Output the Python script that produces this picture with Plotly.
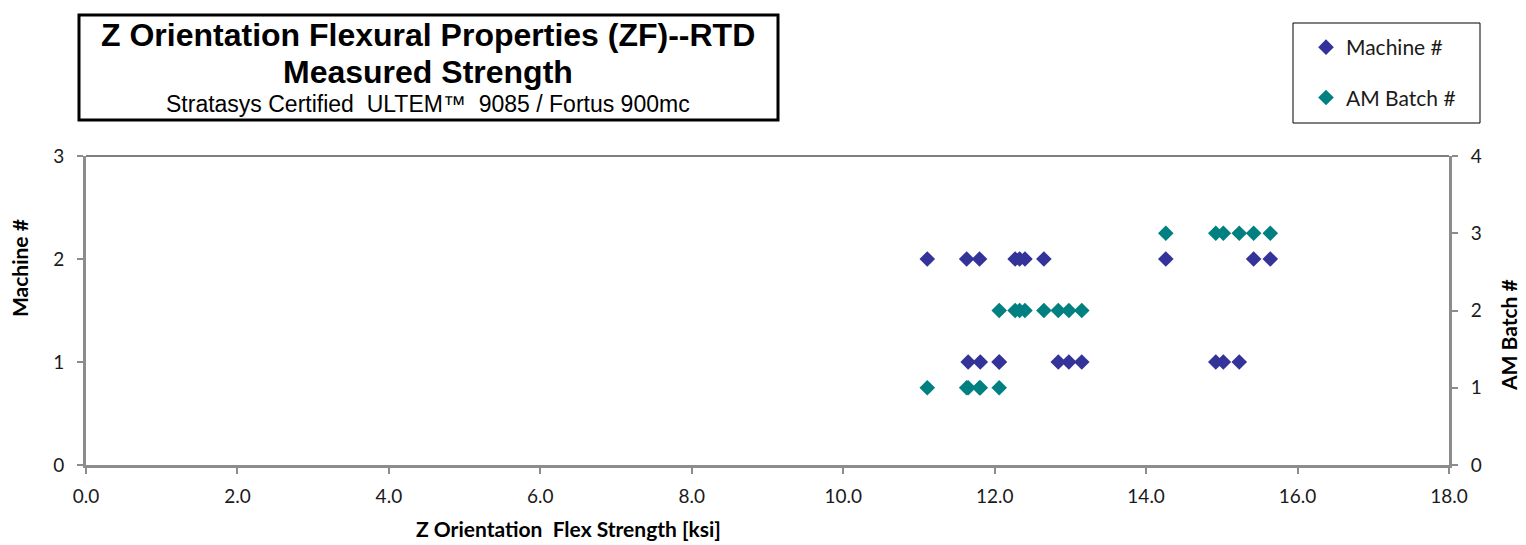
import plotly.graph_objects as go

# ---- data ----
machine_strength = [11.11, 11.63, 11.80, 12.27, 12.33, 12.40, 12.65, 14.26, 15.42, 15.64,
                    11.65, 11.81, 12.06, 12.06, 12.84, 12.98, 13.15, 14.92, 15.02, 15.23]
machine_no = [2, 2, 2, 2, 2, 2, 2, 2, 2, 2,
              1, 1, 1, 1, 1, 1, 1, 1, 1, 1]
batch_strength = [11.11, 11.63, 11.65, 11.80, 11.81, 12.06,
                  12.06, 12.27, 12.33, 12.40, 12.65, 12.84, 12.98, 13.15,
                  14.26, 14.92, 15.02, 15.23, 15.42, 15.64]
batch_no = [1, 1, 1, 1, 1, 1,
            2, 2, 2, 2, 2, 2, 2, 2,
            3, 3, 3, 3, 3, 3]
x_ticks = [0, 2, 4, 6, 8, 10, 12, 14, 16, 18]

W, H = 1526, 545
L, R, T, B = 86, 1449, 156, 465
pw, ph = R - L, B - T

def px(x):
    return (x - L) / pw

def py(y):
    return (B - y) / ph

AXC = "#8c8c8c"
SANS = "Lato, Carlito, Calibri, sans-serif"
TICKFONT = dict(family=SANS, size=19, color="#1a1a1a")

fig = go.Figure()
fig.add_trace(go.Scatter(
    x=machine_strength, y=machine_no, mode="markers", name="Machine #",
    marker=dict(symbol="diamond", size=12, color="#333399"),
    legendgroup="m", yaxis="y"))
fig.add_trace(go.Scatter(
    x=batch_strength, y=batch_no, mode="markers", name="AM Batch #",
    marker=dict(symbol="diamond", size=12, color="#008080"),
    legendgroup="b", yaxis="y2"))

fig.update_layout(
    width=W, height=H,
    margin=dict(l=L, r=W - R, t=T, b=H - B, autoexpand=False),
    paper_bgcolor="white", plot_bgcolor="white",
    showlegend=True,
    legend=dict(x=px(1306), y=py(27), xanchor="left", yanchor="top",
                bgcolor="rgba(0,0,0,0)", borderwidth=0,
                font=dict(family=SANS, size=21, color="#1a1a1a"),
                traceorder="grouped", tracegroupgap=20, itemsizing="constant"),
    xaxis=dict(range=[0, 18], tickvals=x_ticks, tickformat=".1f",
               showline=True, linecolor=AXC, linewidth=3,
               ticks="outside", ticklen=6, tickwidth=2, tickcolor=AXC,
               ticklabelstandoff=6,
               showgrid=False, zeroline=False, tickfont=TICKFONT),
    yaxis=dict(range=[0, 3], dtick=1, showline=True, linecolor=AXC, linewidth=3,
               ticks="outside", ticklen=6, tickwidth=2, tickcolor=AXC,
               ticklabelstandoff=9,
               showgrid=False, zeroline=False, tickfont=TICKFONT),
    yaxis2=dict(range=[0, 4], dtick=1, overlaying="y", side="right",
                showline=True, linecolor=AXC, linewidth=3,
                ticks="outside", ticklen=6, tickwidth=2, tickcolor=AXC,
                ticklabelstandoff=9,
                showgrid=False, zeroline=False, tickfont=TICKFONT),
)

shapes = [
    # top border of plot area
    dict(type="line", xref="paper", yref="paper", x0=0, x1=1, y0=1, y1=1,
         line=dict(color="black", width=1)),
    # title box
    dict(type="rect", xref="paper", yref="paper",
         x0=px(79), x1=px(778), y0=py(120), y1=py(15),
         line=dict(color="black", width=3), fillcolor="white", layer="below"),
    # legend box
    dict(type="rect", xref="paper", yref="paper",
         x0=px(1293), x1=px(1480), y0=py(123), y1=py(23),
         line=dict(color="black", width=1), fillcolor="rgba(0,0,0,0)"),
]
fig.update_layout(shapes=shapes)

TITLEF = "Liberation Sans Narrow, Arial Narrow, Liberation Sans, Arial, sans-serif"
ann = [
    dict(text="<b>Z Orientation Flexural Properties (ZF)--RTD</b>", x=px(428), y=py(35),
         font=dict(family=TITLEF, size=32, color="black")),
    dict(text="<b>Measured Strength</b>", x=px(428), y=py(72),
         font=dict(family=TITLEF, size=32, color="black")),
    dict(text="Stratasys Certified\u00a0 ULTEM\u2122\u00a0 9085 / Fortus 900mc", x=px(428), y=py(104.5),
         font=dict(family=TITLEF, size=23, color="black")),
    dict(text="<b>Z Orientation\u00a0 Flex Strength [ksi]</b>", x=px(568), y=py(528),
         font=dict(family=SANS, size=21, color="black")),
    dict(text="<b>Machine #</b>", x=px(19), y=py(268), textangle=-90,
         font=dict(family=SANS, size=21, color="black")),
    dict(text="<b>AM Batch #</b>", x=px(1508), y=py(335), textangle=-90,
         font=dict(family=SANS, size=21, color="black")),
]
for a in ann:
    a.update(xref="paper", yref="paper", showarrow=False, xanchor="center", yanchor="middle")
fig.update_layout(annotations=ann)

fig.write_html("out.html", config={"displayModeBar": False},
               post_script="document.body.style.margin='0px';document.body.style.overflow='hidden';")
